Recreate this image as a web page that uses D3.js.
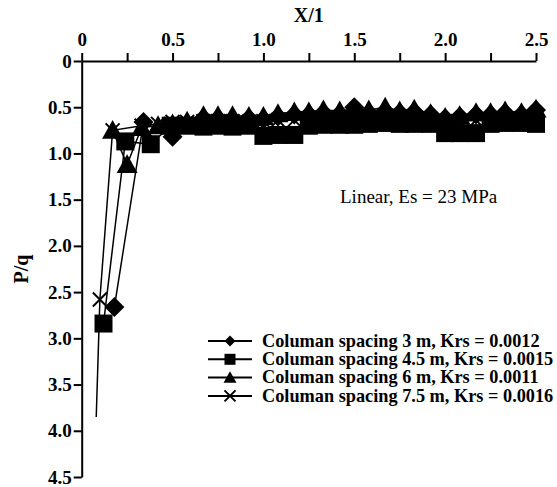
<!DOCTYPE html>
<html>
<head>
<meta charset="utf-8">
<script src="https://cdn.jsdelivr.net/npm/d3@7"></script>
<style>
  html, body { margin: 0; padding: 0; background: #fff; }
  svg { display: block; font-family: "Liberation Serif", "Times New Roman", serif; }
</style>
</head>
<body>
<svg id="chart" width="557" height="487"></svg>
<script>
// P/q distribution along X/1 for four column spacings
const xTicks = [0, 0.25, 0.5, 0.75, 1.0, 1.25, 1.5, 1.75, 2.0, 2.25, 2.5];
const xTickLabels = ["0", "", "0.5", "", "1.0", "", "1.5", "", "2.0", "", "2.5"];
const yTicks = [0, 0.5, 1.0, 1.5, 2.0, 2.5, 3.0, 3.5, 4.0, 4.5];
const yTickLabels = ["0", "0.5", "1.0", "1.5", "2.0", "2.5", "3.0", "3.5", "4.0", "4.5"];

const seriesNames = [
  "Columan spacing 3 m, Krs = 0.0012",
  "Columan spacing 4.5 m, Krs = 0.0015",
  "Columan spacing 6 m, Krs = 0.0011",
  "Columan spacing 7.5 m, Krs = 0.0016"
];

const x3 = [0.18, 0.34, 0.50, 0.58, 0.67, 0.75, 0.83, 0.92, 1.00, 1.08, 1.17, 1.25, 1.33, 1.42, 1.50, 1.58, 1.67, 1.75, 1.83, 1.92, 2.00, 2.08, 2.17, 2.25, 2.33, 2.42, 2.50];
const y3 = [2.66, 0.66, 0.82, 0.68, 0.62, 0.62, 0.63, 0.62, 0.63, 0.60, 0.58, 0.58, 0.56, 0.57, 0.50, 0.56, 0.54, 0.56, 0.55, 0.58, 0.62, 0.60, 0.58, 0.58, 0.56, 0.58, 0.53];

const x45 = [0.12, 0.24, 0.38, 0.49, 0.58, 0.67, 0.75, 0.83, 0.92, 1.00, 1.08, 1.17, 1.25, 1.33, 1.42, 1.50, 1.58, 1.67, 1.75, 1.83, 1.92, 2.00, 2.08, 2.17, 2.25, 2.33, 2.42, 2.50];
const y45 = [2.84, 0.87, 0.90, 0.70, 0.70, 0.71, 0.70, 0.71, 0.70, 0.81, 0.80, 0.80, 0.70, 0.69, 0.69, 0.69, 0.68, 0.67, 0.68, 0.68, 0.68, 0.78, 0.78, 0.78, 0.68, 0.67, 0.67, 0.68];

const x6 = [0.17, 0.25, 0.33, 0.42, 0.50, 0.58, 0.67, 0.75, 0.83, 0.92, 1.00, 1.08, 1.17, 1.25, 1.33, 1.42, 1.50, 1.58, 1.67, 1.75, 1.83, 1.92, 2.00, 2.08, 2.17, 2.25, 2.33, 2.42, 2.50];
const y6 = [0.75, 1.12, 0.72, 0.70, 0.68, 0.65, 0.59, 0.59, 0.59, 0.60, 0.60, 0.57, 0.55, 0.55, 0.53, 0.54, 0.52, 0.53, 0.50, 0.54, 0.52, 0.57, 0.61, 0.59, 0.56, 0.56, 0.54, 0.56, 0.52];

// the 7.5 m run starts from an unmarked reading at X/1 = 0.08
const x75 = [0.08, 0.10, 0.17, 0.33, 0.42, 0.50, 0.58, 0.67, 0.75, 0.83, 0.92, 1.00, 1.08, 1.17, 1.25, 1.33, 1.42, 1.50, 1.58, 1.67, 1.75, 1.83, 1.92, 2.00, 2.08, 2.17, 2.25, 2.33, 2.42, 2.50];
const y75 = [3.85, 2.58, 0.75, 0.70, 0.68, 0.66, 0.66, 0.65, 0.65, 0.65, 0.66, 0.65, 0.64, 0.64, 0.63, 0.63, 0.63, 0.62, 0.62, 0.62, 0.62, 0.63, 0.64, 0.65, 0.65, 0.64, 0.63, 0.63, 0.62, 0.62];

const svg = d3.select("#chart");

const x = d3.scaleLinear().domain([0, 2.5]).range([81.7, 536]);
const y = d3.scaleLinear().domain([0, 4.5]).range([61, 477]);

// marker shapes
const diamondShape = {
  draw(ctx, size) {
    const r = Math.sqrt(size) / 2;
    ctx.moveTo(0, -r); ctx.lineTo(r, 0); ctx.lineTo(0, r); ctx.lineTo(-r, 0); ctx.closePath();
  }
};
const triangleShape = {
  draw(ctx, size) {
    const s = Math.sqrt(size);
    const h = s * 0.9;
    ctx.moveTo(0, -h * 0.55); ctx.lineTo(s / 2, h * 0.45); ctx.lineTo(-s / 2, h * 0.45); ctx.closePath();
  }
};
const crossShape = {
  draw(ctx, size) {
    const r = Math.sqrt(size) / 2;
    ctx.moveTo(-r, -r); ctx.lineTo(r, r); ctx.moveTo(r, -r); ctx.lineTo(-r, r);
  }
};

const series = [
  { name: seriesNames[0], xs: x3, ys: y3, shape: diamondShape, size: 20 * 20, legendSize: 11 * 11, stroke: false, markFrom: 0 },
  { name: seriesNames[1], xs: x45, ys: y45, shape: d3.symbolSquare, size: 18 * 18, legendSize: 11 * 11, stroke: false, markFrom: 0 },
  { name: seriesNames[2], xs: x6, ys: y6, shape: triangleShape, size: 21 * 21, legendSize: 13 * 13, stroke: false, markFrom: 0 },
  { name: seriesNames[3], xs: x75, ys: y75, shape: crossShape, size: 14 * 14, legendSize: 11 * 11, stroke: true, markFrom: 1 }
];

// axes
const yAxis = d3.axisLeft(y)
  .tickValues(yTicks)
  .tickFormat((d, i) => yTickLabels[i])
  .tickSize(8).tickSizeOuter(0).tickPadding(2);
const xAxis = d3.axisTop(x)
  .tickValues(xTicks)
  .tickFormat((d, i) => xTickLabels[i])
  .tickSize(8).tickSizeOuter(0).tickPadding(7);

const gy = svg.append("g").attr("transform", `translate(${x(0)},0)`).call(yAxis);
const gx = svg.append("g").attr("transform", `translate(0,${y(0)})`).call(xAxis);
[gx, gy].forEach(g => {
  g.select(".domain").attr("stroke", "#000").attr("stroke-width", 2);
  g.selectAll(".tick line").attr("stroke", "#000").attr("stroke-width", 2);
  g.selectAll(".tick text").attr("fill", "#000")
    .style("font-family", "Liberation Serif, serif")
    .style("font-size", "19px").style("font-weight", "bold");
});

// axis titles
svg.append("text")
  .attr("x", (x(0) + x(2.5)) / 2).attr("y", 22)
  .attr("text-anchor", "middle")
  .style("font-size", "20px").style("font-weight", "bold")
  .text("X/1");
svg.append("text")
  .attr("transform", `translate(28,${(y(0) + y(4.5)) / 2}) rotate(-90)`)
  .attr("text-anchor", "middle")
  .style("font-size", "20px").style("font-weight", "bold")
  .text("P/q");

// series lines and markers
const line = d3.line().x(d => x(d[0])).y(d => y(d[1]));
series.forEach(s => {
  const pts = s.xs.map((v, i) => [v, s.ys[i]]);
  svg.append("path")
    .datum(pts)
    .attr("d", line)
    .attr("fill", "none")
    .attr("stroke", "#000")
    .attr("stroke-width", 1.5);
  const sym = d3.symbol().type(s.shape).size(s.size);
  svg.append("g").selectAll("path")
    .data(pts.slice(s.markFrom))
    .join("path")
    .attr("transform", d => `translate(${x(d[0])},${y(d[1])})`)
    .attr("d", sym)
    .attr("fill", s.stroke ? "none" : "#000")
    .attr("stroke", "#000")
    .attr("stroke-width", s.stroke ? 2 : 0);
});

// annotation
svg.append("text")
  .attr("x", 340).attr("y", 203)
  .style("font-size", "19px")
  .text("Linear, Es = 23 MPa");

// legend
const legend = svg.append("g").attr("transform", "translate(208,341)");
series.forEach((s, i) => {
  const g = legend.append("g").attr("transform", `translate(0,${i * 18.3})`);
  g.append("line").attr("x1", 0).attr("x2", 44).attr("y1", 0).attr("y2", 0)
    .attr("stroke", "#000").attr("stroke-width", 2);
  g.append("path")
    .attr("transform", "translate(22,0)")
    .attr("d", d3.symbol().type(s.shape).size(s.legendSize))
    .attr("fill", s.stroke ? "none" : "#000")
    .attr("stroke", "#000")
    .attr("stroke-width", s.stroke ? 2 : 0);
  g.append("text").attr("x", 54).attr("y", 0).attr("dy", "0.32em")
    .style("font-size", "18.3px").style("font-weight", "bold")
    .text(s.name);
});
</script>
</body>
</html>
